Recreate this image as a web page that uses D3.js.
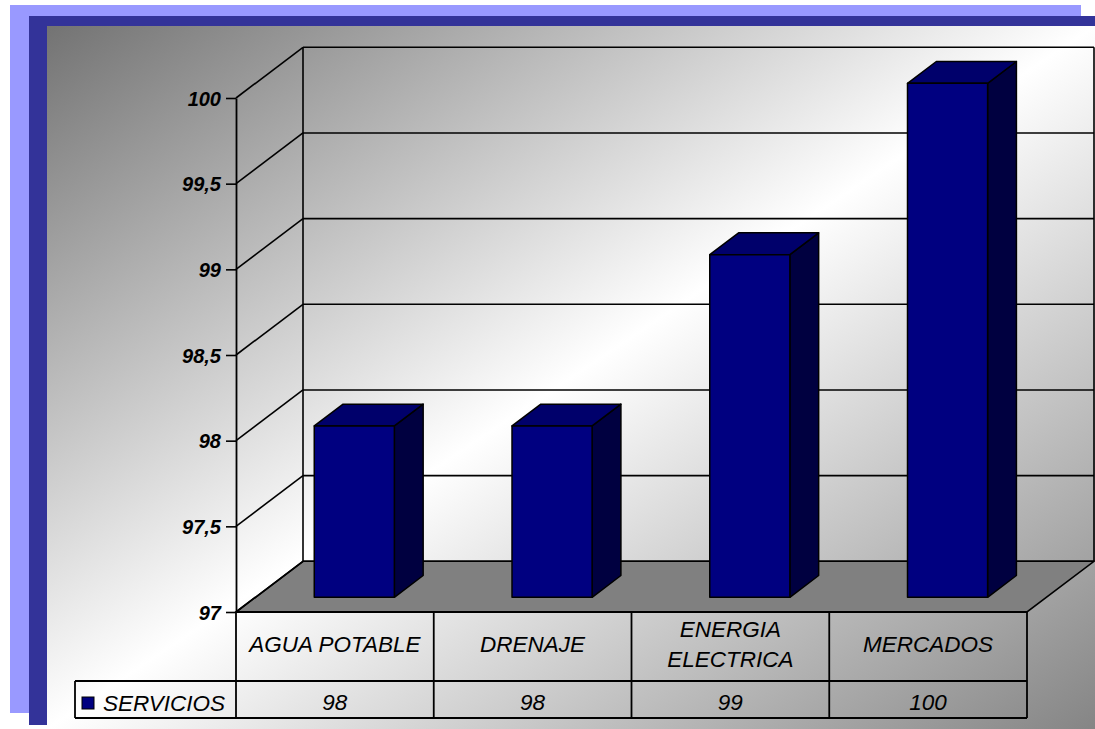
<!DOCTYPE html>
<html>
<head>
<meta charset="utf-8">
<script src="https://cdn.jsdelivr.net/npm/d3@7"></script>
<style>
  html, body { margin: 0; padding: 0; background: #ffffff; }
  svg { display: block; }
  text { font-family: Arial, "Liberation Sans", sans-serif; }
</style>
</head>
<body>
<svg id="chart" width="1095" height="729"></svg>
<script>
// ---- data ----
const categories = ["AGUA POTABLE", "DRENAJE", "ENERGIA ELECTRICA", "MERCADOS"];
const categoryLines = [["AGUA POTABLE"], ["DRENAJE"], ["ENERGIA", "ELECTRICA"], ["MERCADOS"]];
const values = [98, 98, 99, 100];
const seriesName = "SERVICIOS";
const yTicks = [97, 97.5, 98, 98.5, 99, 99.5, 100];
const yDomain = [97, 100];

// ---- layout ----
const W = 1095, H = 729;
const svg = d3.select("#chart");
const DX = 67, DY = -50.7;           // depth of the 3D box
const F0 = 0.29, F1 = 0.72;          // bar depth position within box
const barRatio = 0.405;

const x = d3.scaleBand().domain(categories).range([236, 1027]).padding(0);
const y = d3.scaleLinear().domain(yDomain).range([612, 98]);
const fmt = v => String(v).replace(".", ",");

// ---- background frames ----
const defs = svg.append("defs");
const g = defs.append("linearGradient").attr("id", "bg")
  .attr("x1", 0).attr("y1", 0).attr("x2", 1).attr("y2", 1);
g.append("stop").attr("offset", "0%").attr("stop-color", "#737373");
g.append("stop").attr("offset", "50%").attr("stop-color", "#ffffff");
g.append("stop").attr("offset", "100%").attr("stop-color", "#858585");

svg.append("rect").attr("x", 10).attr("y", 5).attr("width", 1071).attr("height", 708).attr("fill", "#9999ff");
svg.append("rect").attr("x", 29).attr("y", 16).attr("width", W - 29).attr("height", 709).attr("fill", "#333399");
svg.append("rect").attr("x", 47).attr("y", 26).attr("width", W - 47).attr("height", H - 26).attr("fill", "url(#bg)");

const x0 = x.range()[0], x1 = x.range()[1];
const yBase = y(yDomain[0]), yTop = y(yDomain[1]);

// ---- floor ----
svg.append("polygon")
  .attr("points", [[x0, yBase], [x0 + DX, yBase + DY], [x1 + DX, yBase + DY], [x1, yBase]].map(p => p.join(",")).join(" "))
  .attr("fill", "#808080").attr("stroke", "#000").attr("stroke-width", 1.6);

// ---- gridlines on walls ----
const grid = svg.append("g").attr("stroke", "#000").attr("stroke-width", 1.6).attr("fill", "none");
grid.selectAll("line.lw").data(yTicks).join("line").attr("class", "lw")
  .attr("x1", x0).attr("y1", d => y(d))
  .attr("x2", x0 + DX).attr("y2", d => y(d) + DY);
grid.selectAll("line.bw").data(yTicks).join("line").attr("class", "bw")
  .attr("x1", x0 + DX).attr("y1", d => y(d) + DY)
  .attr("x2", x1 + DX).attr("y2", d => y(d) + DY);
grid.append("line").attr("x1", x0 + DX).attr("y1", yTop + DY).attr("x2", x0 + DX).attr("y2", yBase + DY);
grid.append("line").attr("x1", x1 + DX).attr("y1", yTop + DY).attr("x2", x1 + DX).attr("y2", yBase + DY);

// ---- bars ----
const bw = x.bandwidth();
const barW = bw * barRatio;
const bdx = (F1 - F0) * DX, bdy = (F1 - F0) * DY;
const bars = svg.append("g").attr("stroke", "#000").attr("stroke-width", 1.5).attr("stroke-linejoin", "round");
const data = categories.map((c, i) => ({ c, v: values[i] }));
data.forEach(d => {
  const fx = x(d.c) + (bw - barW) / 2 + F0 * DX;
  const fyTop = y(d.v) + F0 * DY;
  const fyBot = yBase + F0 * DY;
  const bg = bars.append("g");
  // side
  bg.append("polygon")
    .attr("points", [[fx + barW, fyTop], [fx + barW + bdx, fyTop + bdy], [fx + barW + bdx, fyBot + bdy], [fx + barW, fyBot]].map(p => p.join(",")).join(" "))
    .attr("fill", "#000040");
  // top
  bg.append("polygon")
    .attr("points", [[fx, fyTop], [fx + bdx, fyTop + bdy], [fx + barW + bdx, fyTop + bdy], [fx + barW, fyTop]].map(p => p.join(",")).join(" "))
    .attr("fill", "#00006b");
  // front
  bg.append("rect").attr("x", fx).attr("y", fyTop).attr("width", barW).attr("height", fyBot - fyTop)
    .attr("fill", "#000080");
});

// ---- y axis ----
const axis = d3.axisLeft(y).tickValues(yTicks).tickFormat(fmt).tickSize(10).tickSizeOuter(0).tickPadding(5);
const ax = svg.append("g").attr("transform", `translate(${x0},0)`).call(axis);
ax.select(".domain").attr("stroke", "#000").attr("stroke-width", 1.8);
ax.selectAll(".tick line").attr("stroke", "#000").attr("stroke-width", 1.6);
ax.selectAll(".tick text")
  .attr("fill", "#000")
  .style("font-family", "Arial, 'Liberation Sans', sans-serif")
  .style("font-size", "20px").style("font-weight", "bold").style("font-style", "italic")
  .attr("dy", "0.36em");

// ---- data table ----
const rowTop = yBase, rowMid = 681, rowBot = 718;
const legendX = 75;
const tbl = svg.append("g").attr("stroke", "#000").attr("stroke-width", 1.8).attr("fill", "none");
tbl.append("line").attr("x1", x0).attr("y1", rowTop).attr("x2", x1).attr("y2", rowTop);
tbl.append("line").attr("x1", legendX).attr("y1", rowMid).attr("x2", x1).attr("y2", rowMid);
tbl.append("line").attr("x1", legendX).attr("y1", rowBot).attr("x2", x1).attr("y2", rowBot);
tbl.append("line").attr("x1", legendX).attr("y1", rowMid).attr("x2", legendX).attr("y2", rowBot);
const bounds = categories.map(c => x(c)).concat([x1]);
tbl.selectAll("line.col").data(bounds).join("line").attr("class", "col")
  .attr("x1", d => d).attr("y1", rowTop).attr("x2", d => d).attr("y2", rowBot);

const txt = svg.append("g").attr("fill", "#000")
  .style("font-size", "22.5px").style("font-style", "italic");
categories.forEach((c, i) => {
  const lines = categoryLines[i];
  const cx = x(c) + bw / 2;
  const mid = 652;
  const lh = 30;
  lines.forEach((ln, j) => {
    txt.append("text").attr("x", cx).attr("y", mid + (j - (lines.length - 1) / 2) * lh)
      .attr("text-anchor", "middle").text(ln);
  });
  txt.append("text").attr("x", cx).attr("y", 710).attr("text-anchor", "middle").text(fmt(values[i]));
});
svg.append("rect").attr("x", 82).attr("y", 697).attr("width", 12).attr("height", 12)
  .attr("fill", "#000080").attr("stroke", "#000").attr("stroke-width", 1);
txt.append("text").attr("x", 103).attr("y", 711).text(seriesName);
</script>
</body>
</html>
